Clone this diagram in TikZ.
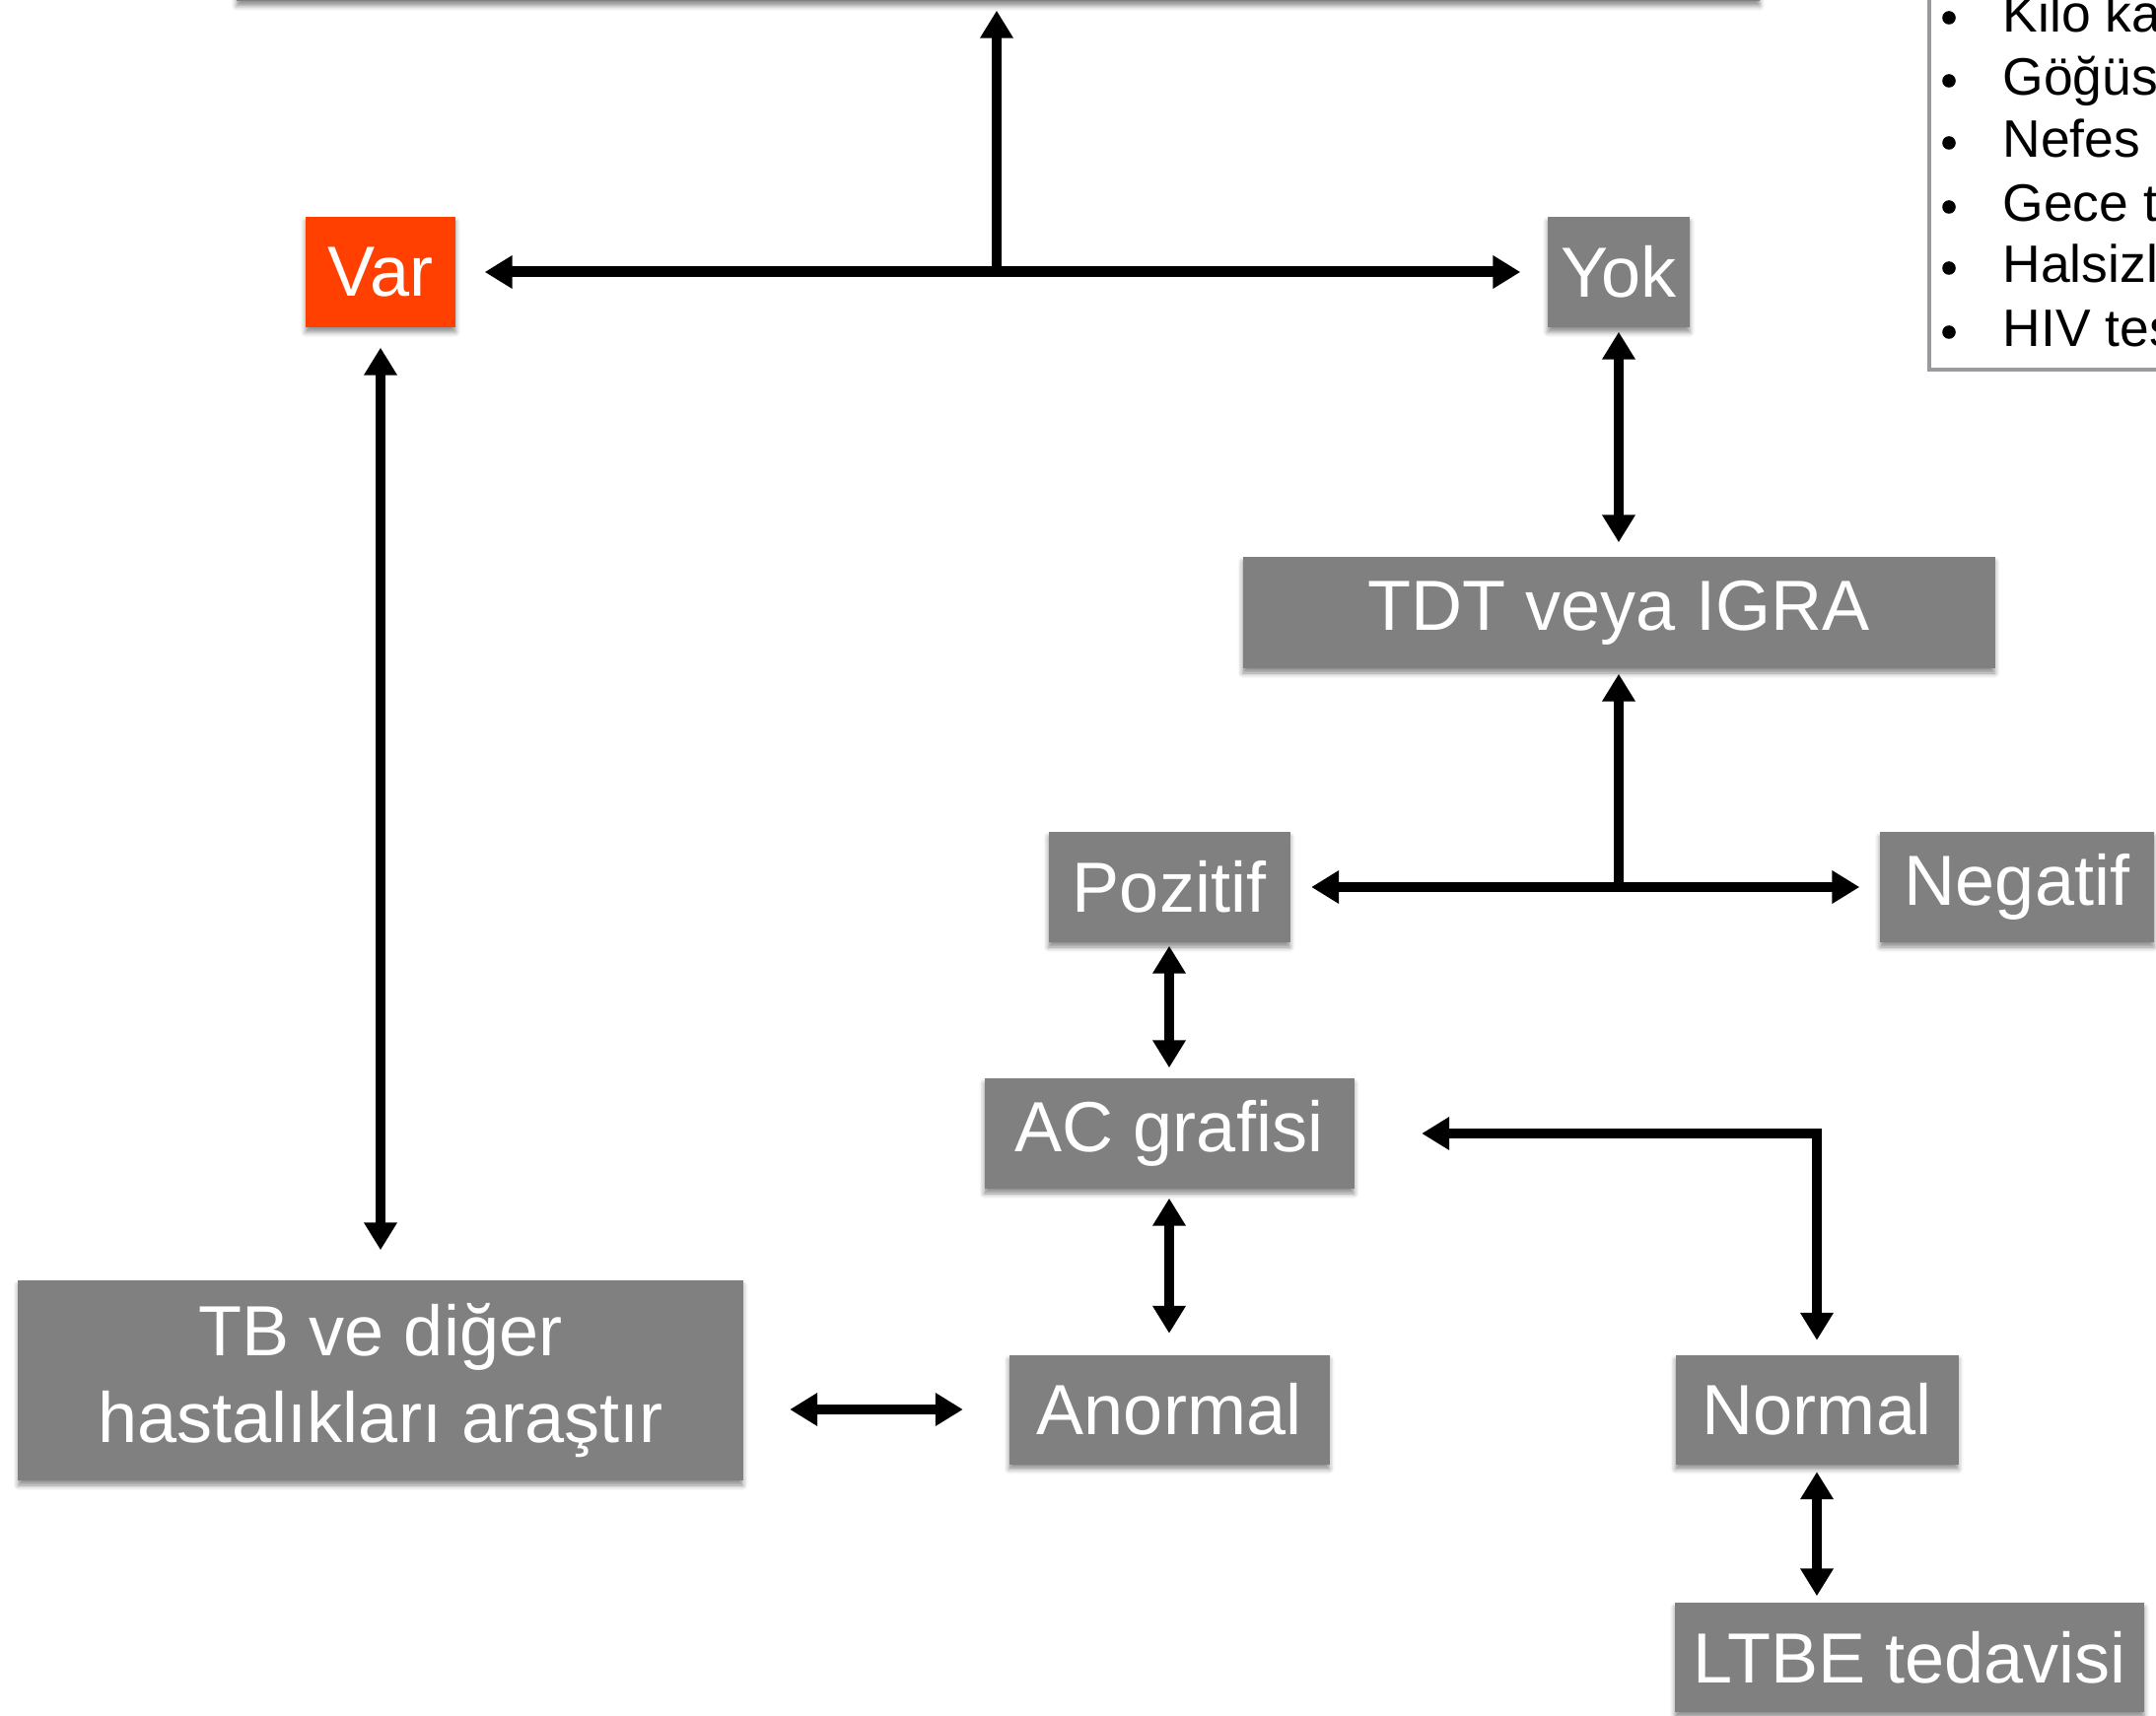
\documentclass[tikz,border=0pt]{standalone}
\usepackage{fontspec}
\setmainfont{Liberation Sans}
\usepackage{tikz}
\usetikzlibrary{arrows.meta,calc,shadows.blur}

\definecolor{boxgray}{RGB}{128,128,128}
\definecolor{varred}{RGB}{255,64,0}
\definecolor{framegray}{RGB}{152,154,157}

\begin{document}
\begin{tikzpicture}[
    >={Triangle[length=0.28cm,width=0.32cm]},
    box/.style={fill=boxgray,text=white,inner sep=0pt,minimum height=1.12cm,
      font=\fontsize{20.5}{25}\selectfont,
      blur shadow={shadow xshift=0pt,shadow yshift=-0.05cm,shadow blur radius=0.05cm,shadow opacity=45}},
    link/.style={line width=0.1cm,<->},
    lead/.style={line width=0.1cm,->}
  ]
        \useasboundingbox (0,0) rectangle (21.87,-17.41);
        \clip (0,0) rectangle (21.87,-17.41);

        % boxes
        \node[box,minimum width=15.45cm,minimum height=0.98cm] (top) at (10.125,0.48) {};
        \node[box,fill=varred,minimum width=1.52cm] (var) at (3.86,-2.76) {Var};
        \node[box,minimum width=1.44cm] (yok) at (16.42,-2.76) {Yok};
        \node[box,minimum width=7.63cm,minimum height=1.13cm] (tdt) at (16.42,-6.215) {TDT veya IGRA};
        \node[box,minimum width=2.45cm] (poz) at (11.86,-9.0) {Pozitif};
        \node[box,minimum width=2.78cm] (neg) at (20.46,-9.0) {Negatif};
        \node[box,minimum width=3.75cm] (ac) at (11.86,-11.5) {AC grafisi};
        \node[box,minimum width=3.25cm,minimum height=1.11cm] (anormal) at (11.86,-14.3) {Anormal};
        \node[box,minimum width=2.87cm,minimum height=1.11cm] (normal) at (18.43,-14.3) {Normal};
        \node[box,minimum width=4.76cm,minimum height=1.11cm] (ltbe) at (19.37,-16.815) {LTBE tedavisi};
        \node[box,minimum width=7.35cm,minimum height=2.03cm,align=center] (tb) at (3.86,-14.005) {TB ve diğer\\hastalıkları araştır};

        % connectors
        \coordinate (fork1) at (10.11,-2.76);
        \coordinate (fork2) at (tdt.south |- poz.east);
        \draw[link,line width=0.11cm,shorten <=0.29cm,shorten >=0.27cm] (var.east) -- (yok.west);
        \draw[lead,shorten >=0.09cm] (fork1) -- (fork1 |- top.south);
        \draw[link,shorten <=0.04cm,shorten >=0.14cm] (yok.south) -- (tdt.north);
        \draw[lead,shorten >=0.05cm] (fork2) -- (tdt.south);
        \draw[link,shorten <=0.21cm,shorten >=0.2cm] (poz.east) -- (neg.west);
        \draw[link,shorten <=0.03cm,shorten >=0.1cm] (poz.south) -- (ac.north);
        \draw[link,shorten <=0.09cm,shorten >=0.21cm] (ac.south) -- (anormal.north);
        \draw[link,shorten <=0.2cm,shorten >=0.3cm] (var.south) -- (tb.north);
        \draw[link,shorten <=0.47cm,shorten >=0.46cm] (tb.east |- anormal.west) -- (anormal.west);
        \draw[link,shorten <=0.68cm,shorten >=0.14cm] (ac.east) -- (normal.north |- ac.east) -- (normal.north);
        \draw[link,shorten <=0.07cm,shorten >=0.06cm] (normal.south) -- (normal.south |- ltbe.north);

        % symptom list
        \draw[framegray,line width=0.04cm,fill=white] (19.57,0.3) rectangle (22.3,-3.75);
        \foreach \ytext/\item [count=\i] in {0.33/Kilo ka,0.97/Göğüs,1.60/Nefes d,2.25/Gece t,2.87/Halsizl,3.52/HIV tes}{
          \fill (19.77,{-\ytext+0.15}) circle (0.068);
          \node[anchor=base west,inner sep=0pt,font=\fontsize{15.2}{18}\selectfont] (item\i) at (20.31,-\ytext) {\item};
        }
      \end{tikzpicture}
\end{document}
